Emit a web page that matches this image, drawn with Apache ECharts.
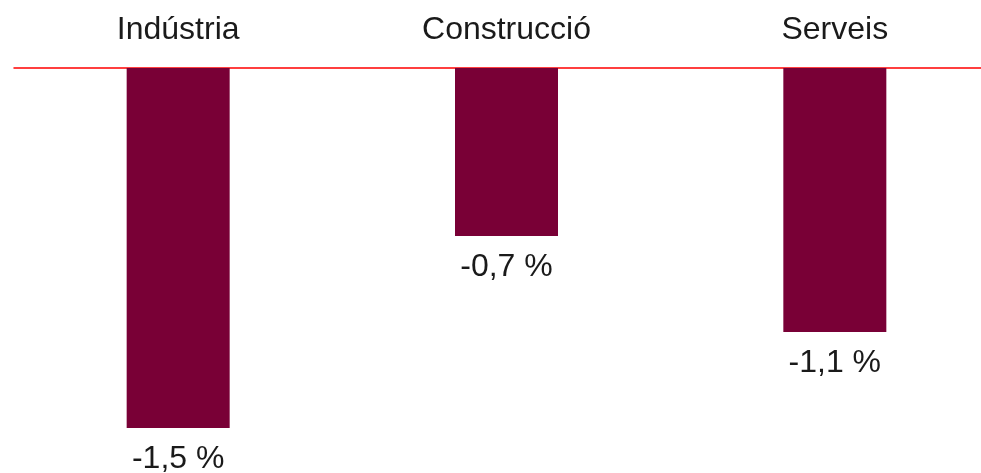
<!DOCTYPE html>
<html lang="ca">
<head>
<meta charset="utf-8">
<title>Variació per sectors</title>
<script src="https://cdn.jsdelivr.net/npm/echarts@6/dist/echarts.min.js"></script>
<style>
  html, body { margin: 0; padding: 0; background: #fff; }
  #chart { width: 981px; height: 473px; }
</style>
</head>
<body>
<div id="chart"></div>
<script>
// dades
var sectors = ['Indústria', 'Construcció', 'Serveis'];
var variacio = [-1.5, -0.7, -1.1];

var chart = echarts.init(document.getElementById('chart'));
chart.setOption({
  animation: false,
  grid: { left: 14, width: 985, top: 68, bottom: 45, outerBoundsMode: 'none' },
  xAxis: {
    type: 'category',
    position: 'top',
    data: sectors,
    axisLine: { lineStyle: { color: '#ff0000', width: 1.5 } },
    axisTick: { show: false },
    axisLabel: {
      color: '#1a1a1a',
      fontSize: 32,
      fontFamily: 'Liberation Sans, Arial, sans-serif',
      margin: 22
    }
  },
  yAxis: {
    type: 'value',
    min: -1.5,
    max: 0,
    show: false,
    splitLine: { show: false }
  },
  series: [{
    type: 'bar',
    data: variacio,
    barWidth: 103,
    itemStyle: { color: '#790036' },
    label: {
      show: true,
      position: 'bottom',
      distance: 15,
      color: '#1a1a1a',
      fontSize: 32,
      fontFamily: 'Liberation Sans, Arial, sans-serif',
      formatter: function (p) {
        return p.value.toFixed(1).replace('.', ',') + ' %';
      }
    }
  }]
});
</script>
</body>
</html>
